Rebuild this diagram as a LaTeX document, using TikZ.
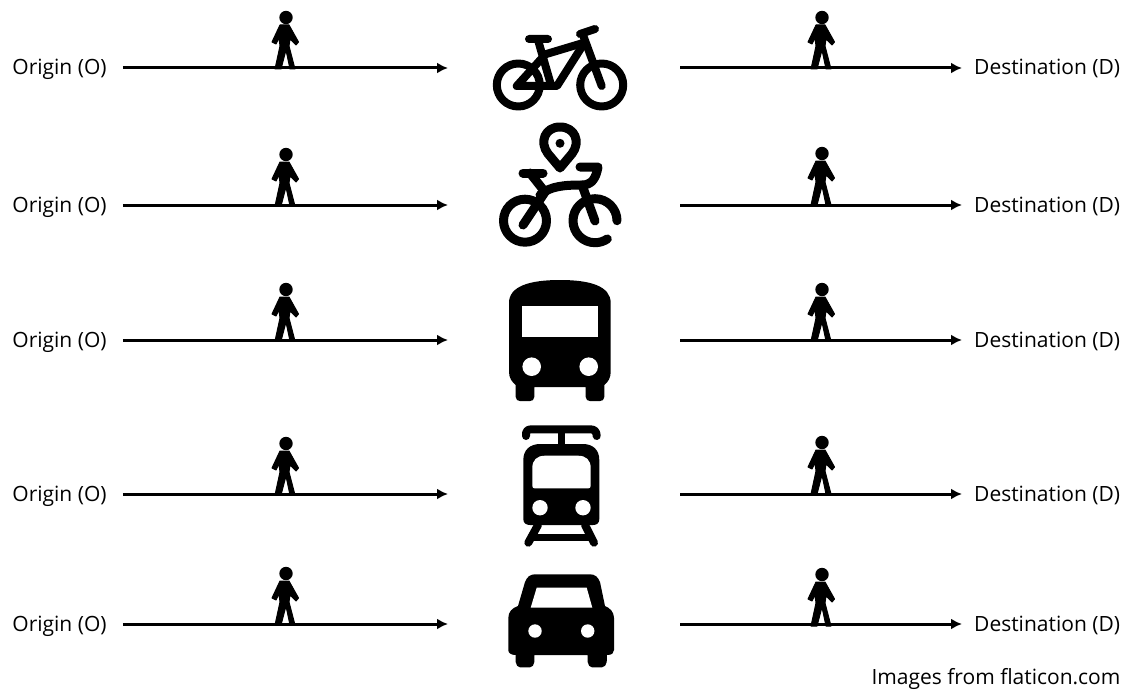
\documentclass[tikz,border=0pt]{standalone}
\usepackage{fontspec}
\setmainfont{Open Sans}
\usetikzlibrary{arrows.meta}
\tikzset{
  trip arrow/.style={draw=black, line width=3pt, -{Latex[length=11pt,width=11pt]}},
  trip label/.style={font=\fontsize{21}{24}\selectfont, text=black, inner ysep=0pt, text height=18pt, text depth=4pt},
  icon line/.style={draw=black, line width=8pt, line cap=round, line join=round},
  icon solid/.style={fill=black, draw=none},
  pics/walker/.style={code={
    \fill (0,-50.5) circle (6.7);
    \filldraw[line width=1pt, line join=round] (-6,-43) -- (3,-43) -- (12.5,-26) -- (10,-23) -- (4,-29)
      -- (3,-22) -- (9,1) -- (4,1) -- (0,-18) -- (-5,1) -- (-11,1) -- (-6,-22) -- (-7,-30) -- (-10,-24) -- (-14,-26) -- cycle;
  }},
}

\begin{document}
\begin{tikzpicture}[x=1pt,y=-1pt]
  \useasboundingbox (0,0) rectangle (1129,690);
  % one row per mode
  \foreach \i/\y/\wl/\wr in {1/68/68/68,2/205/205/204,3/340/340/340,4/494/494/493,5/624/624/625} {
    \node[trip label, inner xsep=16pt] (o\i) at (59.5,\y) {Origin (O)};
    \node[trip label, inner xsep=12pt, anchor=west] (d\i) at (962,\y) {Destination (D)};
    \coordinate (l\i) at (448,\y);
    \coordinate (r\i) at (680,\y);
    \draw[trip arrow] (o\i.east) -- (l\i);
    \draw[trip arrow] (r\i) -- (d\i.west);
    \pic at (286,\wl) {walker};
    \pic at (822,\wr) {walker};
  }
  % bike
  \draw[icon line] (518.3,85) circle (21.5) (601.7,85) circle (21.5);
  \draw[icon line] (529,39) -- (548,39) (538,40) -- (551,85);
  \draw[icon line] (543,57) -- (516.7,86) -- (557,86) -- (583,45);
  \draw[icon line] (543,55) -- (583,43);
  \draw[icon line] (580,34) -- (595,29) (583,35) -- (601.7,86);
  % shared bike
  \draw[icon line, line width=9pt] (560,168) -- (548,153.7) .. controls (539,142) and (545,127) .. (560,127)
    .. controls (575,127) and (581,142) .. (572,153.7) -- cycle;
  \fill (560,143.3) circle (4.5);
  \begin{scope}[icon line/.append style={line width=9pt}]
  \draw[icon line] (525,220.7) circle (21.5);
  \draw[icon line] (617,220.7) arc[start angle=0, end angle=-304, radius=22];
  \draw[icon line] (523,225) -- (545,192) -- (530,173);
  \draw[icon line] (523,173) -- (543,173);
  \draw[icon line] (540,195) .. controls (550,186) and (565,185) .. (582,185) .. controls (592,185) and (596,178) .. (598,167) -- (580,167);
  \draw[icon line] (582,185) -- (595,221);
  \end{scope}
  % bus
  \path[icon solid] (509,303) .. controls (509,286) and (530,280) .. (560,280) .. controls (590,280) and (610.7,286) .. (610.7,303)
    -- (610.7,372) .. controls (610.7,378) and (608,382) .. (604.3,385) -- (604.3,397) .. controls (604.3,400) and (602,401) .. (600,401)
    -- (590,401) .. controls (588,401) and (585.7,400) .. (585.7,397) -- (585.7,387) -- (534.3,387) -- (534.3,397)
    .. controls (534.3,400) and (532,401) .. (530,401) -- (520,401) .. controls (518,401) and (515.7,400) .. (515.7,397)
    -- (515.7,385) .. controls (512,382) and (509,378) .. (509,372) -- cycle;
  \fill[white] (522,306) rectangle (598.3,337.3);
  \fill[white] (531.7,366.7) circle (9.3) (588.7,366.7) circle (9.3);
  % tram
  \draw[icon line] (526,436) -- (526,433) .. controls (526,431) and (528,429.3) .. (531.7,429.3) -- (590,429.3)
    .. controls (594,429.3) and (596.7,431) .. (596.7,436);
  \fill (558.2,429) rectangle (565,446);
  \path[icon solid] (523.3,460) .. controls (523.3,450) and (530,444) .. (540,444) -- (583,444) .. controls (593,444) and (599.3,450) .. (599.3,460)
    -- (599.3,519) .. controls (599.3,523) and (597,525) .. (593,525) -- (530,525) .. controls (526,525) and (523.3,523) .. (523.3,519) -- cycle;
  \draw[icon line] (538,525) -- (528.3,542.7) (585,525) -- (594,542.7);
  \fill (533,534.3) rectangle (590,540.8);
  \path[fill=white] (532.3,468) .. controls (532.3,460) and (537,455.7) .. (545,455.7) -- (578,455.7) .. controls (586,455.7) and (590.7,460) .. (590.7,468)
    -- (590.7,486) .. controls (590.7,487.5) and (589.5,488.3) .. (588.5,488.3) -- (534.5,488.3) .. controls (533.5,488.3) and (532.3,487.5) .. (532.3,486) -- cycle;
  \fill[white] (540,507.7) circle (7.7) (583,507.7) circle (7.7);
  % car
  \path[icon solid] (535,574.3) -- (590,574.3) .. controls (595,574.3) and (598,577) .. (600,582) -- (605,606)
    .. controls (610,608) and (614,612) .. (614,618) -- (614,650) .. controls (614,653) and (612,655) .. (607,655)
    -- (606.7,662) .. controls (606.7,665) and (604,667.3) .. (602,667.3) -- (592,667.3) .. controls (590,667.3) and (587.7,665) .. (587.7,662)
    -- (587.7,655) -- (534.3,655) -- (534.3,662) .. controls (534.3,665) and (532,667.3) .. (530,667.3)
    -- (520,667.3) .. controls (518,667.3) and (515.7,665) .. (515.7,662) -- (515.7,655) .. controls (511,655) and (508.3,653) .. (508.3,650)
    -- (508.3,618) .. controls (508.3,612) and (512,608) .. (518,606) -- (525,582) .. controls (527,577) and (530,574.3) .. (535,574.3) -- cycle;
  \fill[white] (536.7,587.7) -- (586.7,587.7) -- (592.3,607.7) -- (530.7,607.7) -- cycle;
  \fill[white] (535,631) circle (6.7) (587.7,631) circle (6.7);
  % source
  \node[trip label, anchor=east] (credit) at (1124,677) {Images from flaticon.com};
\end{tikzpicture}
\end{document}
